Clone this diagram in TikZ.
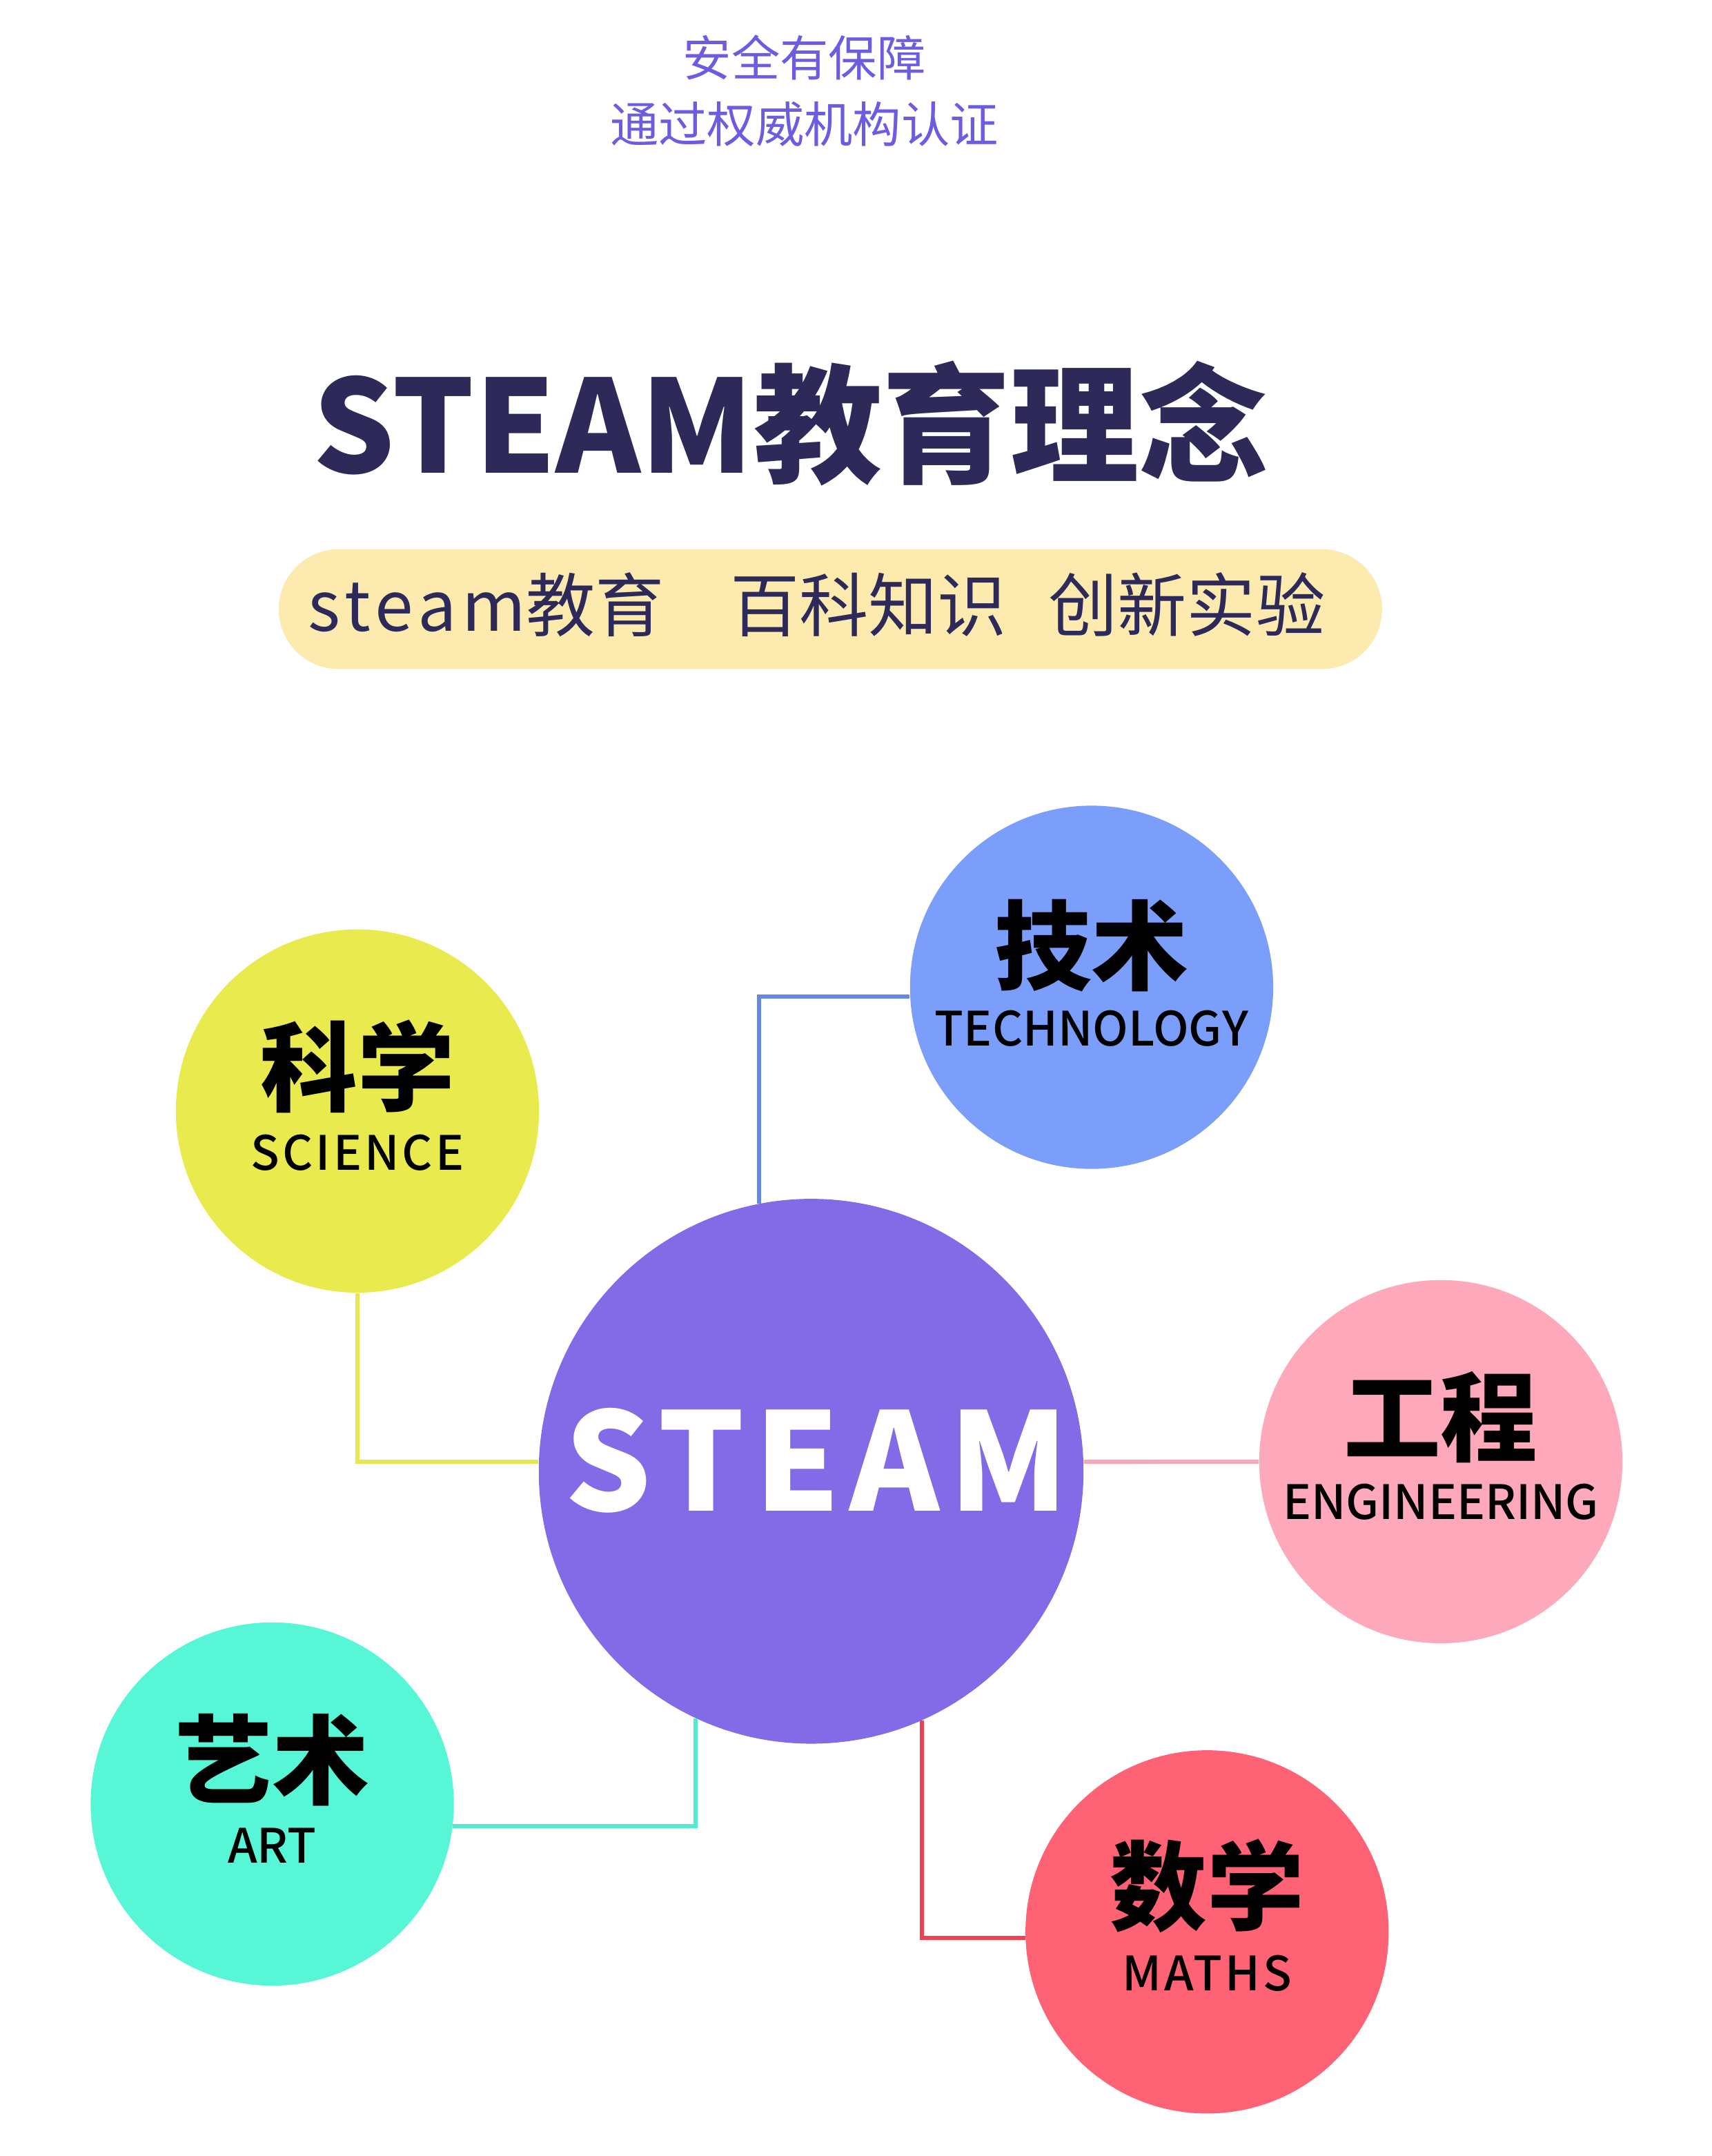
\documentclass[tikz,border=0pt]{standalone}
\usepackage{fontspec}
\setmainfont{Noto Sans CJK SC}
\newfontfamily\medfont{Noto Sans CJK SC Medium}
\usetikzlibrary{positioning}

\definecolor{topblue}{HTML}{6C5CE0}
\definecolor{titleblue}{HTML}{2D2A5A}
\definecolor{barcream}{HTML}{FCEAAE}
\definecolor{sciyellow}{HTML}{E9EA4D}
\definecolor{techblue}{HTML}{7A9EFA}
\definecolor{steampurple}{HTML}{836AE6}
\definecolor{engpink}{HTML}{FDA8BB}
\definecolor{artcyan}{HTML}{57F6D6}
\definecolor{mathred}{HTML}{FD6275}
\definecolor{sciline}{HTML}{E6E651}
\definecolor{techline}{HTML}{6688E0}
\definecolor{engline}{HTML}{F8A8BA}
\definecolor{artline}{HTML}{52EAD0}
\definecolor{mathline}{HTML}{EE4152}

\tikzset{
  subject/.style = {circle, minimum size=5.26cm, inner sep=0pt},
  hub/.style = {circle, minimum size=7.89cm, inner sep=0pt},
  zhlabel/.style = {font=\fontsize{40}{48}\selectfont\bfseries, text=black, inner sep=0pt},
  enlabel/.style = {font=\medfont\fontsize{19.5}{24}\selectfont, text=black, inner sep=0pt},
  spacedlabel/.style = {font=\medfont\fontsize{19.5}{24}\selectfont\addfontfeature{LetterSpace=6}, text=black, inner sep=0pt},
  link/.style = {line width=1.7pt}
}

\begin{document}
\begin{tikzpicture}[x=0.01992cm, y=-0.01992cm]
\useasboundingbox (0,0) rectangle (1245,1568);
\fill[white] (0,0) rectangle (1245,1568);

% Header
\node[text=topblue, font=\fontsize{20}{27.1}\selectfont, align=center] (slogan) at (585,66) {安全有保障\\通过权威机构认证};

\node[text=titleblue, font=\fontsize{53}{58}\selectfont\bfseries] (title) at (575,308) {STEAM教育理念};

\node[fill=barcream, rounded corners=0.866cm, minimum width=15.98cm, minimum height=1.733cm] (bar) at (604,443) {};
\node[text=titleblue, font=\fontsize{28.5}{32}\selectfont] (keywords) at (594,440) {{\addfontfeature{LetterSpace=8}steam}教育\hspace{0.95em}百科知识\hspace{0.6em}创新实验};

% Circles
\node[subject, fill=sciyellow] (sci) at (260,808) {};
\node[subject, fill=techblue] (tech) at (794,718) {};
\node[hub, fill=steampurple] (steam) at (590,1070) {};
\node[subject, fill=engpink] (eng) at (1048,1063) {};
\node[subject, fill=artcyan] (art) at (198,1312) {};
\node[subject, fill=mathred] (maths) at (878,1405) {};

% Labels
\node[text=white, font=\fontsize{56}{60}\selectfont\bfseries\addfontfeature{LetterSpace=7}] (steam-en) at (594,1062) {STEAM};

\node[zhlabel] (sci-zh) at ([yshift=0.64cm]sci.center) {科学};
\node[spacedlabel] (sci-en) at ([yshift=-0.6cm]sci.center) {SCIENCE};

\node[zhlabel] (tech-zh) at ([yshift=0.6cm]tech.center) {技术};
\node[enlabel] (tech-en) at ([yshift=-0.6cm]tech.center) {TECHNOLOGY};

\node[zhlabel] (eng-zh) at ([yshift=0.64cm]eng.center) {工程};
\node[enlabel] (eng-en) at ([yshift=-0.58cm]eng.center) {ENGINEERING};

\node[zhlabel] (art-zh) at ([yshift=0.64cm]art.center) {艺术};
\node[enlabel] (art-en) at ([yshift=-0.6cm]art.center) {ART};

\node[zhlabel] (maths-zh) at ([yshift=0.66cm]maths.center) {数学};
\node[spacedlabel] (maths-en) at ([yshift=-0.6cm]maths.center) {MATHS};

% Links
\draw[link, sciline] (sci.south) |- (steam.178);
\draw[link, techline] (steam.101) |- (tech.183);
\draw[link, engline] (steam.2) -- (eng.west);
\draw[link, artline] (art.-7) -| (steam.-115);
\draw[link, mathline] (steam.-66) |- (maths.182);

\end{tikzpicture}
\end{document}
